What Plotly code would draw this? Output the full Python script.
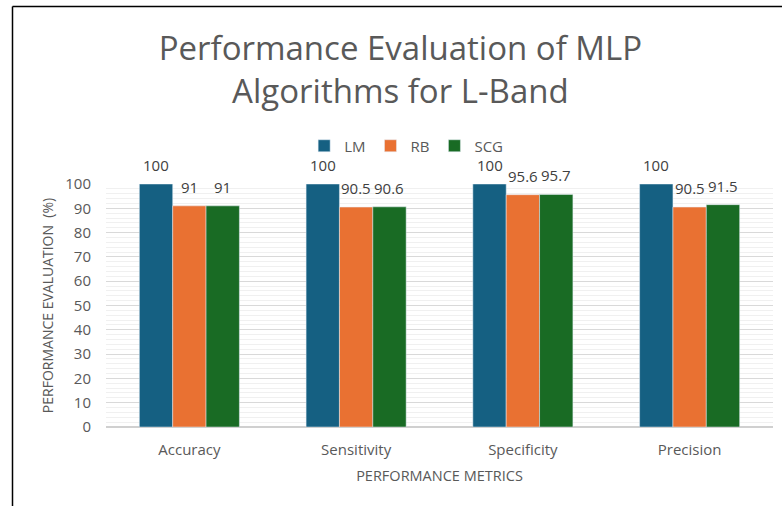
import plotly.graph_objects as go

# Metrics and per-algorithm scores (%)
metrics = ["Accuracy", "Sensitivity", "Specificity", "Precision"]
lm_scores = [100, 100, 100, 100]
rb_scores = [91, 90.5, 95.6, 90.5]
scg_scores = [91, 90.6, 95.7, 91.5]

series = [
    ("LM", lm_scores, "#156082"),
    ("RB", rb_scores, "#E97132"),
    ("SCG", scg_scores, "#196B24"),
]

W, H = 782, 506
ML, MR, MT, MB = 106, 9, 184, 79
plot_w = W - ML - MR
plot_h = H - MT - MB

BARGAP = 0.4
bar_w = (1 - BARGAP) / len(series)

fig = go.Figure()
for k, (name, vals, color) in enumerate(series):
    fig.add_trace(go.Bar(name=name, x=metrics, y=vals, marker_color=color))
    # value labels above each bar, centred on the bar within its group
    offset = (k - (len(series) - 1) / 2) * bar_w
    for i, v in enumerate(vals):
        fig.add_annotation(x=i + offset, y=v, xref="x", yref="y",
                           text=f"{v:g}", showarrow=False,
                           xanchor="center", yanchor="bottom", yshift=7,
                           font=dict(size=15, color="#404040"))

# outer frame (left and top edges)
fx = (12.5 - ML) / plot_w
fy = 1 + (MT - 6.5) / plot_h
fig.add_shape(type="line", xref="paper", yref="paper", x0=fx, x1=fx, y0=-1, y1=fy,
              line=dict(color="#000000", width=1.5))
fig.add_shape(type="line", xref="paper", yref="paper", x0=fx, x1=1.2, y0=fy, y1=fy,
              line=dict(color="#000000", width=1.5))

fig.update_layout(
    width=W, height=H,
    margin=dict(l=ML, r=MR, t=MT, b=MB),
    paper_bgcolor="white", plot_bgcolor="white",
    font=dict(family="Open Sans", color="#595959"),
    title=dict(text="Performance Evaluation of MLP<br>Algorithms for L-Band",
               x=0.512, xref="container", xanchor="center",
               y=1 - 60 / H, yref="container", yanchor="middle",
               font=dict(size=33, color="#595959")),
    barmode="group", bargap=BARGAP, bargroupgap=0,
    legend=dict(orientation="h", x=0.45, xanchor="center",
                y=1 + (MT - 146) / plot_h, yanchor="middle",
                font=dict(size=15, color="#595959"),
                itemwidth=30, traceorder="normal"),
    xaxis=dict(tickfont=dict(size=15, color="#595959"), ticks="", showline=False,
               ticklabelstandoff=12,
               title=dict(text="PERFORMANCE METRICS", font=dict(size=14.5, color="#595959"),
                          standoff=12)),
    yaxis=dict(range=[0, 100], tick0=0, dtick=10, tickfont=dict(size=15, color="#595959"),
               showgrid=True, gridcolor="#d9d9d9", gridwidth=1,
               zeroline=True, zerolinecolor="#d0d0d0", zerolinewidth=1.5,
               minor=dict(dtick=2, showgrid=True, gridcolor="#f0f0f0", gridwidth=1),
               ticklabelstandoff=14,
               title=dict(text="PERFORMANCE EVALUATION  (%)",
                          font=dict(size=14, color="#595959"), standoff=8)),
)

fig.write_html("out.html")
